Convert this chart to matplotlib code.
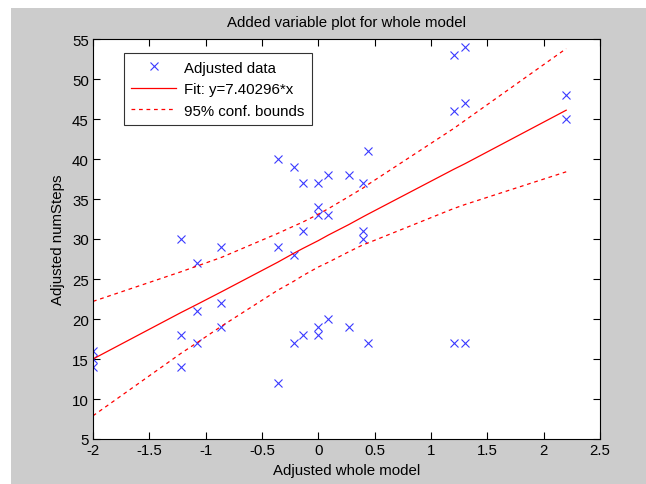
import numpy as np
import matplotlib
matplotlib.use("Agg")
from matplotlib import pyplot as plt
from matplotlib.patches import Rectangle

plt.rcParams['font.family'] = ['Liberation Sans', 'DejaVu Sans']
plt.rcParams['axes.unicode_minus'] = False

###################################################################################################
# Data
###################################################################################################
xData = [-2, -2, -2,
         -1.22, -1.22, -1.22,
         -1.08, -1.08, -1.08,
         -0.86, -0.86, -0.86,
         -0.36, -0.36, -0.36,
         -0.22, -0.22, -0.22,
         -0.14, -0.14, -0.14,
         0, 0, 0, 0, 0,
         0.09, 0.09, 0.09,
         0.27, 0.27,
         0.40, 0.40, 0.40,
         0.44, 0.44,
         1.20, 1.20, 1.20,
         1.30, 1.30, 1.30,
         2.20, 2.20]
yData = [16, 15, 14,
         30, 18, 14,
         27, 21, 17,
         29, 22, 19,
         40, 29, 12,
         39, 28, 17,
         37, 31, 18,
         37, 34, 33, 19, 18,
         38, 33, 20,
         38, 19,
         37, 31, 30,
         41, 17,
         53, 46, 17,
         54, 47, 17,
         48, 45]

xFit = [-2, -1.22, -1.08, -0.86, -0.36, -0.22, -0.14, 0, 0.09, 0.27, 0.40, 0.44, 1.20, 1.30, 2.20]
yFit = [15.0, 20.8, 21.8, 23.4, 27.1, 28.2, 28.8, 29.8, 30.5, 31.8, 32.8, 33.1, 38.7, 39.4, 46.1]
yUpper = [22.2, 25.9, 26.6, 27.7, 30.7, 31.6, 32.1, 33.1, 33.8, 35.3, 36.4, 36.8, 43.8, 44.8, 53.8]
yLower = [7.9, 15.7, 17.0, 19.1, 23.6, 24.7, 25.4, 26.5, 27.1, 28.4, 29.3, 29.5, 33.8, 34.3, 38.4]

xTicks = [-2, -1.5, -1, -0.5, 0, 0.5, 1, 1.5, 2, 2.5]
xTickLabels = ["-2", "-1.5", "-1", "-0.5", "0", "0.5", "1", "1.5", "2", "2.5"]
yTicks = [5, 10, 15, 20, 25, 30, 35, 40, 45, 50, 55]

FS = 10.8

###################################################################################################
# Plot
###################################################################################################
fig = plt.figure(figsize=(6.46, 4.85), dpi=100, facecolor='white')
fig.patches.append(Rectangle((11/646, 0), 1, 1 - 9/485, transform=fig.transFigure,
                             facecolor='#cccccc', edgecolor='none', zorder=-10))
ax = fig.add_axes([93/646, 1 - 440/485, 507/646, 400/485])

ax.plot(xData, yData, linestyle='none', marker='x', color='#3a3aff', markersize=5.5,
        markeredgewidth=0.8, label='Adjusted data')
ax.plot(xFit, yFit, color='red', linewidth=0.9, label='Fit: y=7.40296*x')
ax.plot(xFit, yUpper, color='red', linewidth=0.9, linestyle=(0, (3, 3)), label='95% conf. bounds')
ax.plot(xFit, yLower, color='red', linewidth=0.9, linestyle=(0, (3, 3)))

ax.set_xlim(-2, 2.5)
ax.set_ylim(5, 55)
ax.set_xticks(xTicks)
ax.set_xticklabels(xTickLabels)
ax.set_yticks(yTicks)
ax.tick_params(direction='in', top=True, right=True, length=5, width=0.8, labelsize=FS,
               colors='black', pad=3)
for s in ax.spines.values():
    s.set_linewidth(0.8)

ax.set_title('Added variable plot for whole model', fontsize=FS, pad=9)
ax.set_xlabel('Adjusted whole model', fontsize=FS, labelpad=4)
ax.set_ylabel('Adjusted numSteps', fontsize=FS, labelpad=5)

leg = ax.legend(loc='upper left', bbox_to_anchor=(0.061, 0.965), fontsize=FS, frameon=True,
                fancybox=False, edgecolor='black', borderpad=0.5, handlelength=3.0,
                handletextpad=0.5, labelspacing=0.5, borderaxespad=0)
leg.get_frame().set_linewidth(0.8)

fig.savefig('out.png', dpi=100, facecolor=fig.get_facecolor())
